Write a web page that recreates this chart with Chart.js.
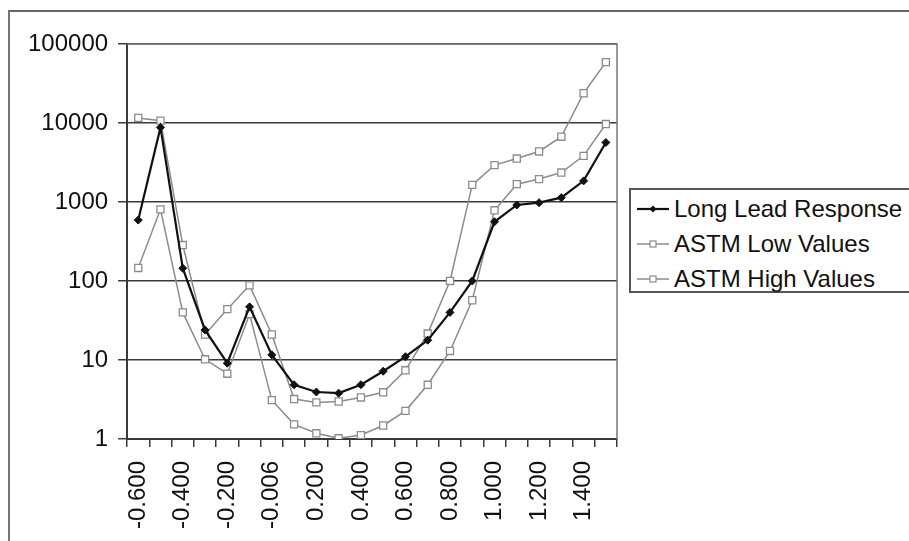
<!DOCTYPE html>
<html>
<head>
<meta charset="utf-8">
<script src="https://cdn.jsdelivr.net/npm/chart.js@4"></script>
<style>
  html, body { margin: 0; padding: 0; background: #fff; }
  #wrap { position: relative; width: 909px; height: 541px; overflow: hidden; }
  #frame { position: absolute; left: 8px; top: 10px; width: 920px; height: 560px;
    border-left: 2px solid #777; border-top: 2px solid #666; }
  #chart { position: absolute; left: 0; top: 0; }
  #legend { position: absolute; left: 629px; top: 188px; width: 300px; height: 101px;
    border: 2px solid #555; background: #fff;
    font: 24px "Liberation Sans", Arial, sans-serif; color: #111; }
  #legend .row { height: 35px; line-height: 35px; white-space: nowrap; }
  #legend .row:first-child { margin-top: 1px; }
  #legend svg { vertical-align: middle; margin: 0 5px 0 6px; position: relative; top: -2px; }
</style>
</head>
<body>
<div id="wrap">
  <div id="frame"></div>
  <canvas id="chart" width="909" height="541"></canvas>
  <div id="legend"></div>
</div>
<script>
// data
const categories = ["-0.600", "-0.500", "-0.400", "-0.300", "-0.200", "-0.100", "-0.006",
  "0.100", "0.200", "0.300", "0.400", "0.500", "0.600", "0.700", "0.800", "0.900",
  "1.000", "1.100", "1.200", "1.300", "1.400", "1.500"];

const longLead = [590, 8800, 145, 24, 9.1, 47, 11.6, 4.85, 3.93, 3.8, 4.86, 7.2,
  11, 17.8, 40, 100, 562, 916, 980, 1135, 1850, 5660];

const astmLow = [146, 807, 40, 10.2, 6.7, 38, 3.1, 1.53, 1.18, 1.02, 1.12, 1.48,
  2.27, 4.85, 13, 57, 785, 1680, 1950, 2360, 3840, 9700];

const astmHigh = [11600, 10700, 285, 21, 44, 88, 21, 3.2, 2.9, 2.98, 3.35, 3.9,
  7.4, 21.6, 100, 1645, 2930, 3550, 4360, 6700, 23800, 58900];

const yTicks = [1, 10, 100, 1000, 10000, 100000];

const font = { family: "'Liberation Sans', Arial, sans-serif", size: 24 };
const axisColor = "#3a3a3a";
const grey = "#8c8c8c";

const datasets = [
  {
    label: "Long Lead Response",
    data: longLead,
    borderColor: "#111",
    backgroundColor: "#111",
    borderWidth: 2.2,
    pointStyle: "rectRot",
    pointRadius: 4,
    pointBorderWidth: 1,
  },
  {
    label: "ASTM Low Values",
    data: astmLow,
    borderColor: grey,
    backgroundColor: "#fff",
    borderWidth: 1.5,
    pointStyle: "rect",
    pointRadius: 5,
    pointBorderWidth: 1.3,
  },
  {
    label: "ASTM High Values",
    data: astmHigh,
    borderColor: grey,
    backgroundColor: "#fff",
    borderWidth: 1.5,
    pointStyle: "rect",
    pointRadius: 5,
    pointBorderWidth: 1.3,
  },
];

// right and top edge of the plot area
const plotBorder = {
  id: "plotBorder",
  afterDraw(chart) {
    const a = chart.chartArea, ctx = chart.ctx;
    ctx.save();
    ctx.strokeStyle = "#777";
    ctx.lineWidth = 1.5;
    ctx.beginPath();
    ctx.moveTo(a.left, a.top);
    ctx.lineTo(a.right, a.top);
    ctx.lineTo(a.right, a.bottom);
    ctx.stroke();
    ctx.restore();
  },
};

const config = {
  type: "line",
  data: { labels: categories, datasets: datasets },
  options: {
    responsive: false,
    animation: false,
    layout: { padding: { left: 18, right: 292, top: 44, bottom: -2 } },
    plugins: { legend: { display: false }, tooltip: { enabled: false } },
    scales: {
      x: {
        offset: true,
        grid: { offset: true, drawOnChartArea: false, tickLength: 8, color: axisColor, lineWidth: 1.5 },
        border: { color: axisColor, width: 2 },
        ticks: {
          autoSkip: false, maxRotation: 90, minRotation: 90, padding: 14,
          color: "#111", font: font,
          callback: function (v, i) { return i % 2 === 0 ? this.getLabelForValue(v) : ""; },
        },
      },
      y: {
        type: "logarithmic",
        min: 1,
        max: 100000,
        afterBuildTicks: (scale) => { scale.ticks = yTicks.map((v) => ({ value: v })); },
        grid: { color: axisColor, lineWidth: 1.5, tickLength: 9 },
        border: { color: axisColor, width: 2 },
        ticks: { padding: 10, color: "#111", font: font, callback: (v) => String(v) },
      },
    },
  },
  plugins: [plotBorder],
};

const myChart = new Chart(document.getElementById("chart"), config);

// html legend: line with the series marker in the middle
const legendBox = document.getElementById("legend");
datasets.forEach((ds) => {
  const row = document.createElement("div");
  row.className = "row";
  let mark;
  if (ds.pointStyle === "rectRot") {
    mark = `<polygon points="16,3.5 19.5,7 16,10.5 12.5,7" fill="${ds.borderColor}"/>`;
  } else {
    mark = `<rect x="13" y="4" width="6" height="6" fill="#fff" stroke="${ds.borderColor}" stroke-width="1.2"/>`;
  }
  row.innerHTML = `<svg width="32" height="14"><line x1="0" y1="7" x2="32" y2="7" stroke="${ds.borderColor}" stroke-width="${ds.borderWidth}"/>${mark}</svg>`;
  const span = document.createElement("span");
  span.textContent = ds.label;
  row.appendChild(span);
  legendBox.appendChild(row);
});
</script>
</body>
</html>
